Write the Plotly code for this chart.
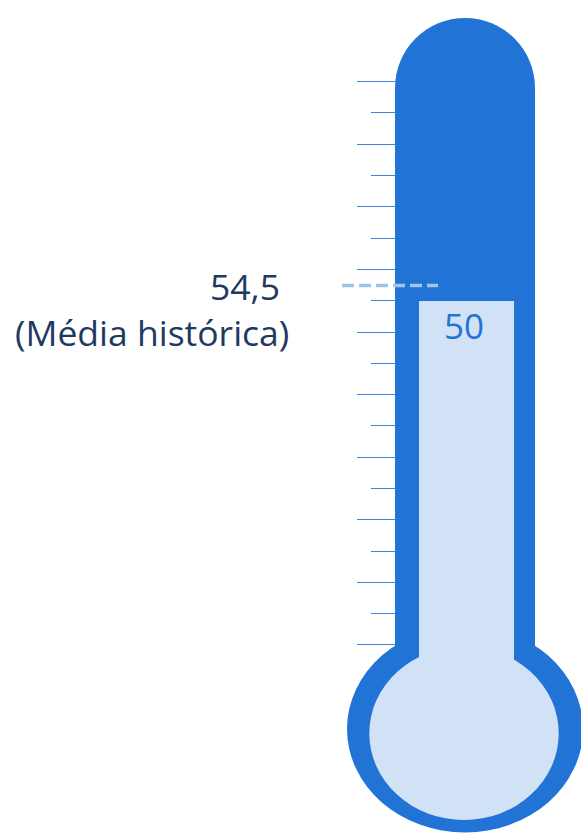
import plotly.graph_objects as go

# ---- data ----
VALUE = 50
HIST_AVG = 54.5
VALUE_LABEL = "50"
AVG_LABEL = "54,5\u00a0<br>(Média histórica)"
SCALE_MAJOR = [0, 10, 20, 30, 40, 50, 60, 70, 80, 90]
SCALE_MINOR = [5, 15, 25, 35, 45, 55, 65, 75, 85]

# ---- style ----
W, H = 581, 836
DARK = "#2174D6"
LIGHT = "#D1E2F7"
DASH = "#9FC5E8"
TEXT = "#1F3A60"
TICK = "#3F82D8"
FONT = "Open Sans"

VALUE_RANGE = [-107.4, 138.5]     # value axis (bar + average line)
SCALE_RANGE = [-30.52, 103.05]    # decorative gauge scale
BAR_BASE = -77.0                  # bulb centre in value units

def px(x):
    return x / W

def py(y):
    return 1 - y / H

shapes = []
def add(kind, x0, y0, x1, y1, color):
    shapes.append(dict(type=kind, xref="paper", yref="paper",
                       x0=px(x0), x1=px(x1), y0=py(y1), y1=py(y0),
                       fillcolor=color, line=dict(width=0), layer="below"))

# thermometer body
add("circle", 395, 18, 535, 158, DARK)
add("rect", 395, 88, 535, 700, DARK)
add("circle", 347, 625.5, 583, 832.5, DARK)
add("circle", 369.3, 646.6, 558.7, 820, LIGHT)

fig = go.Figure()

fig.add_trace(go.Bar(
    x=[466.5], y=[VALUE - BAR_BASE], base=[BAR_BASE], width=[95],
    marker=dict(color=LIGHT, line=dict(width=0)),
    hoverinfo="skip", showlegend=False, xaxis="x", yaxis="y",
))

fig.add_trace(go.Scatter(
    x=[342, 438], y=[HIST_AVG, HIST_AVG], mode="lines",
    line=dict(color=DASH, width=3.5, dash="12px,5px"),
    hoverinfo="skip", showlegend=False, xaxis="x", yaxis="y",
))

# invisible trace to activate scale axis
fig.add_trace(go.Scatter(
    x=[None], y=[None], xaxis="x", yaxis="y2", showlegend=False, hoverinfo="skip",
))

fig.add_annotation(
    x=464, y=VALUE, xref="x", yref="y", text=VALUE_LABEL, showarrow=False,
    xanchor="center", yanchor="top", yshift=1,
    font=dict(family=FONT, size=35, color=DARK),
)
fig.add_annotation(
    x=291, y=HIST_AVG, xref="x", yref="y", text=AVG_LABEL, showarrow=False,
    xanchor="right", yanchor="middle", align="right", yshift=-23,
    font=dict(family=FONT, size=35.5, color=TEXT),
)

fig.update_layout(
    width=W, height=H,
    margin=dict(l=0, r=0, t=0, b=0),
    paper_bgcolor="white", plot_bgcolor="white",
    shapes=shapes, bargap=0,
    xaxis=dict(range=[0, W], visible=False, fixedrange=True),
    yaxis=dict(range=VALUE_RANGE, visible=False, fixedrange=True),
    yaxis2=dict(
        range=SCALE_RANGE, overlaying="y", anchor="free", position=395 / W,
        side="left", showgrid=False, zeroline=False, showline=False,
        showticklabels=False, ticks="outside", tickmode="array",
        tickvals=SCALE_MAJOR, ticklen=38, tickwidth=1.2, tickcolor=TICK,
        minor=dict(tickmode="array", tickvals=SCALE_MINOR, ticks="outside",
                   ticklen=24, tickwidth=1.2, tickcolor=TICK, showgrid=False),
        fixedrange=True,
    ),
)

fig.write_html("out.html", config={"displayModeBar": False},
               post_script="document.body.style.margin='0';document.body.style.overflow='hidden';")
